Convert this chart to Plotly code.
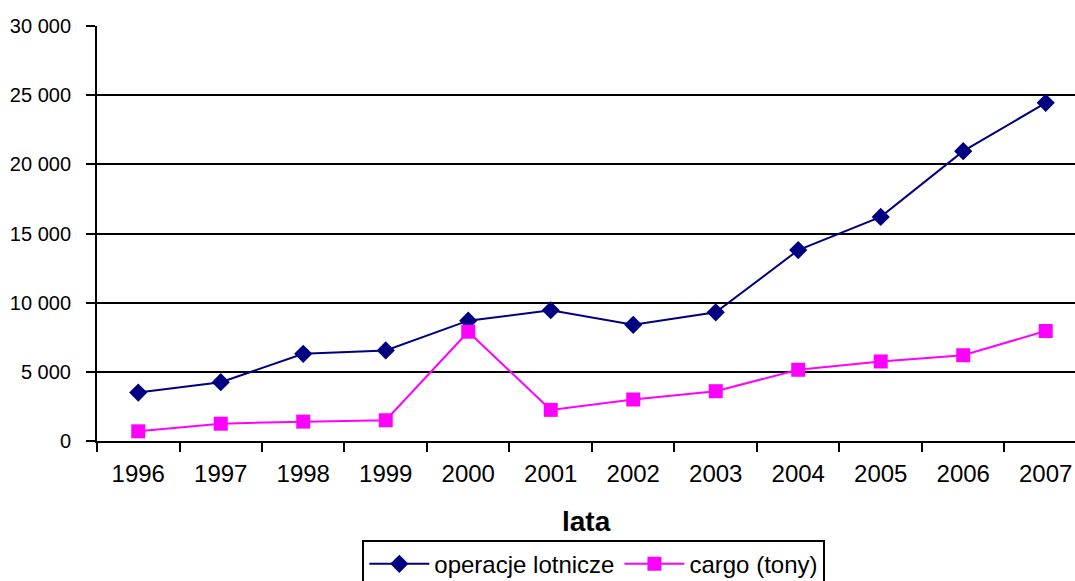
import plotly.graph_objects as go

years = ["1996", "1997", "1998", "1999", "2000", "2001", "2002", "2003", "2004", "2005", "2006", "2007"]
operacje = [3500, 4250, 6300, 6550, 8700, 9450, 8400, 9300, 13800, 16200, 20950, 24450]
cargo = [700, 1250, 1400, 1500, 7900, 2250, 3000, 3600, 5150, 5750, 6200, 7950]
y_ticks = [0, 5000, 10000, 15000, 20000, 25000, 30000]

FONT = "Liberation Sans, Arial, sans-serif"

fig = go.Figure()
fig.add_trace(go.Scatter(
    x=years, y=operacje, name="operacje lotnicze", mode="lines+markers",
    line=dict(color="#000080", width=2),
    marker=dict(symbol="diamond", size=14, color="#000080"),
))
fig.add_trace(go.Scatter(
    x=years, y=cargo, name="cargo (tony)", mode="lines+markers",
    line=dict(color="#FF00FF", width=2),
    marker=dict(symbol="square", size=14, color="#FF00FF"),
))

fig.update_layout(
    width=1075, height=581,
    margin=dict(l=97, r=0, t=26, b=140, autoexpand=False),
    paper_bgcolor="white", plot_bgcolor="white",
    separators=", ",
    font=dict(family=FONT, color="black"),
    hovermode=False,
    showlegend=True,
    legend=dict(
        orientation="h", x=0.508, xanchor="center", y=-0.238, yanchor="top",
        bordercolor="black", borderwidth=2, bgcolor="white",
        font=dict(family=FONT, size=24, color="black"),
        itemwidth=60,
    ),
    annotations=[dict(
        text="<b>lata</b>", xref="paper", yref="paper", x=0.5, y=-0.193,
        xanchor="center", yanchor="middle", showarrow=False,
        font=dict(family=FONT, size=28, color="black"),
    )],
)

fig.update_xaxes(
    type="category", range=[-0.5, 11.355], tickson="boundaries",
    ticks="outside", ticklen=9, tickwidth=2, tickcolor="black",
    showline=True, linecolor="black", linewidth=2,
    showgrid=False, zeroline=False, automargin=False,
    tickfont=dict(family=FONT, size=24, color="black"),
    ticklabelstandoff=10,
)
fig.update_yaxes(
    range=[0, 30000], tickvals=y_ticks, tickformat=",",
    ticks="outside", ticklen=9, tickwidth=2, tickcolor="black",
    showline=True, linecolor="black", linewidth=2,
    showgrid=True, gridcolor="black", gridwidth=2, zeroline=False,
    automargin=False,
    tickfont=dict(family=FONT, size=20, color="black"),
    ticklabelstandoff=11,
)

fig.write_html("out.html", config={"displayModeBar": False},
               post_script="document.body.style.margin='0';")
